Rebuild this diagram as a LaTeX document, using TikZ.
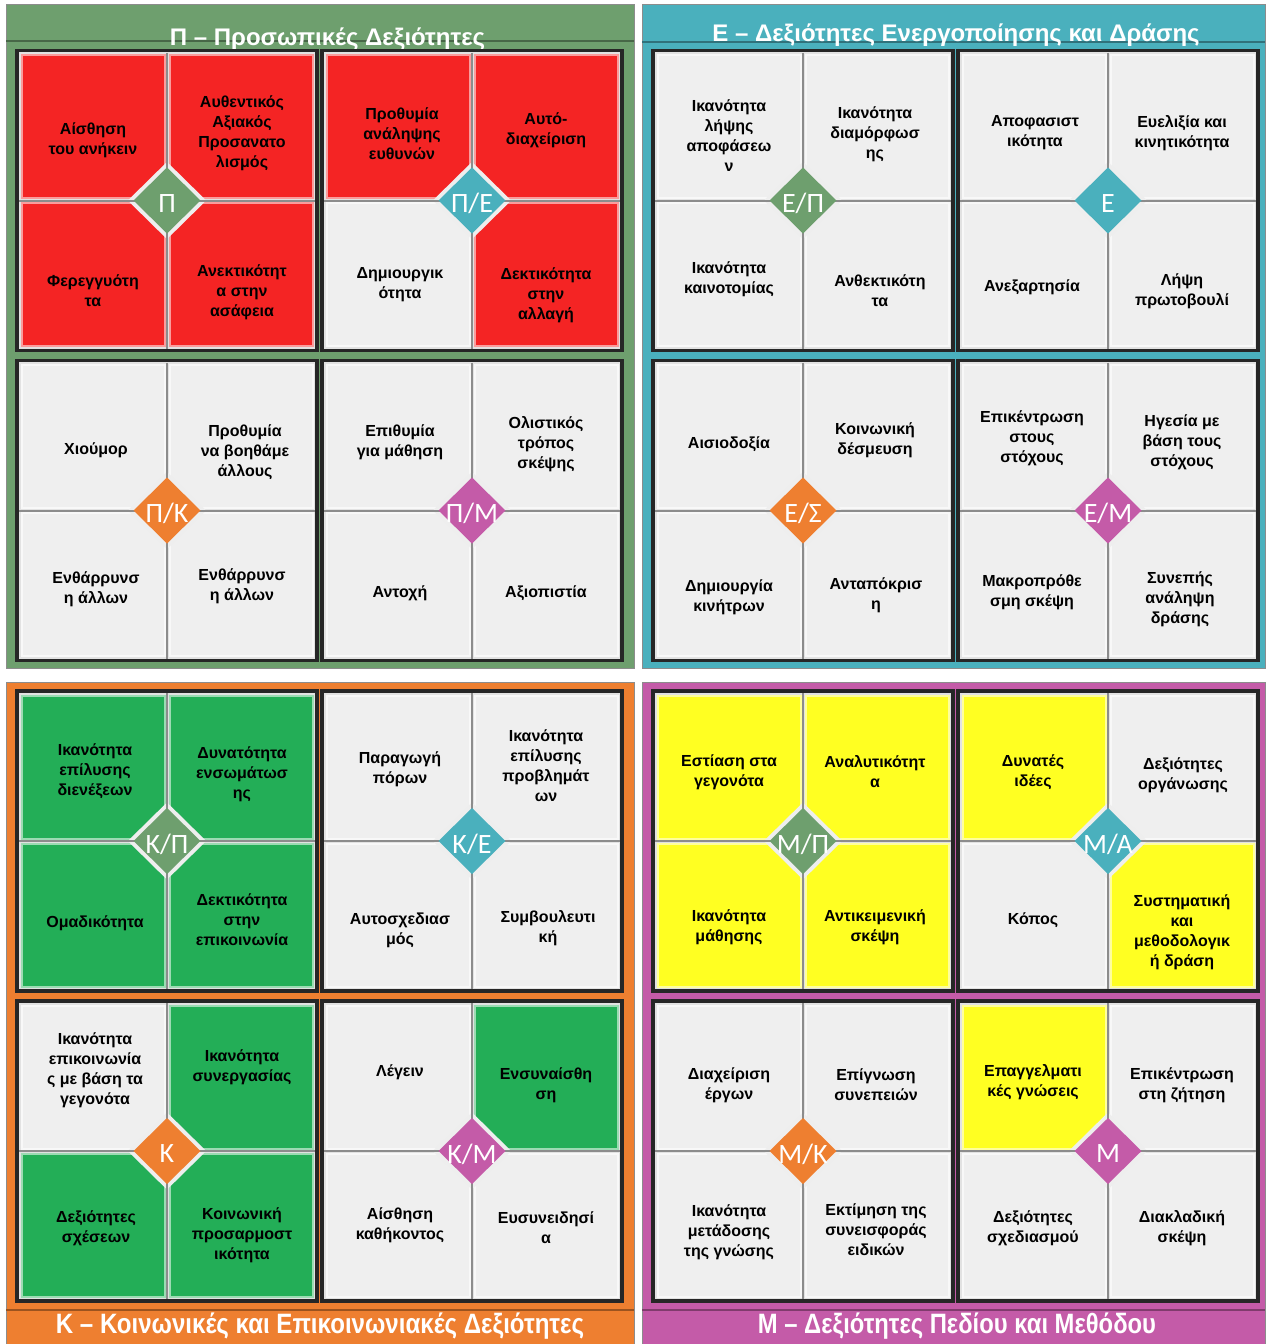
\documentclass[tikz,border=0pt]{standalone}
\usepackage{fontspec}
\usepackage{graphicx}
\setmainfont{Liberation Sans}
\newfontfamily\dfont{Carlito}
\definecolor{qgreen}{HTML}{6E9F6E}
\definecolor{qteal}{HTML}{4AB0BD}
\definecolor{qorange}{HTML}{EE7F30}
\definecolor{qmag}{HTML}{C45BA8}
\definecolor{cred}{HTML}{F42424}
\definecolor{cgrn}{HTML}{23AE57}
\definecolor{cyel}{HTML}{FFFF22}
\definecolor{cwh}{HTML}{EFEFEF}
\definecolor{insetc}{HTML}{E2E2E2}
\definecolor{divc}{HTML}{8C8C8C}
\definecolor{haloc}{HTML}{EEEEEE}
\tikzset{
  ct/.style={align=center, inner sep=0pt, yshift=-2pt, font=\bfseries\fontsize{16}{20}\selectfont, text=black},
  dl/.style={inner sep=0pt, text=white, font=\dfont\fontsize{28}{30}\selectfont},
  ttl/.style={inner sep=0pt, text=white, font=\bfseries\fontsize{24}{28}\selectfont},
  ttlb/.style={inner sep=0pt, text=white, font=\bfseries\fontsize{28}{30}\selectfont},
  qline/.style={draw=black!45, line width=1},
}
% block background
\newcommand\blk[2]{\fill[insetc] ({#1-150},{#2-150}) rectangle ({#1+150},{#2+150});}
% cell: name, cx, cy, sx, sy, fill, tx, ty, text
\newcommand\cel[9]{%
  \fill[#6, draw=#6!45!white, line width=2] ({#2+(#4)*2.5},{#3+(#5)*2.5}) rectangle ({#2+(#4)*145.5},{#3+(#5)*145.5});
  \node[ct] (#1) at (#7,#8) {#9};}
% finish block: name, cx, cy, diamond colour, label
\newcommand\fin[5]{%
  \draw[haloc, line width=8, line join=miter] (#2,{#3-33}) -- ({#2+33.5},#3) -- (#2,{#3+33}) -- ({#2-33.5},#3) -- cycle;
  \draw[divc, line width=2] (#2,{#3-148}) -- (#2,{#3+148});
  \draw[divc, line width=2] ({#2-148},#3) -- ({#2+148},#3);
  \fill[#4] (#2,{#3-33}) -- ({#2+33.5},#3) -- (#2,{#3+33}) -- ({#2-33.5},#3) -- cycle;
  \draw[black!85, line width=3.5] ({#2-150},{#3-150}) rectangle ({#2+150},{#3+150});
  \node[dl] (#1) at (#2,{#3+3}) {#5};}
\begin{document}
\begin{tikzpicture}[x=1pt,y=-1pt]
\useasboundingbox (0,0) rectangle (1266,1344);
\fill[white] (0,0) rectangle (1266,1344);
% quadrants
\fill[qgreen] (6,4) rectangle (634,668);
\draw[qline] (6,4) rectangle (634,668);
\draw[qgreen!65!black, line width=1.2] (6,41) -- (634,41);
\fill[qteal] (642,4) rectangle (1265,668);
\draw[qline] (642,4) rectangle (1265,668);
\draw[qteal!65!black, line width=1.2] (642,42) -- (1265,42);
\fill[qorange] (6,682) rectangle (634,1344);
\draw[qline] (6,682) rectangle (634,1344);
\draw[qorange!65!black, line width=1.2] (6,1310) -- (634,1310);
\fill[qmag] (642,682) rectangle (1265,1344);
\draw[qline] (642,682) rectangle (1265,1344);
\draw[qmag!65!black, line width=1.2] (642,1310) -- (1265,1310);
% titles
\node[ttl, anchor=base] (tP) at (327.5,45) {Π – Προσωπικές Δεξιότητες};
\node[ttl, anchor=base] (tE) at (956,41) {Ε – Δεξιότητες Ενεργοποίησης και Δράσης};
\node[ttlb, anchor=base] (tK) at (320,1333) {\scalebox{0.86}[1]{Κ – Κοινωνικές και Επικοινωνιακές Δεξιότητες}};
\node[ttlb, anchor=base] (tM) at (957,1333) {\scalebox{0.85}[1]{Μ – Δεξιότητες Πεδίου και Μεθόδου}};
% ===== Block A1
\blk{167}{200.5}
\cel{a1a}{167}{200.5}{-1}{-1}{cred}{93}{138}{Αίσθηση\\του ανήκειν}
\cel{a1b}{167}{200.5}{1}{-1}{cred}{242}{131}{Αυθεντικός\\Αξιακός\\Προσανατο\\λισμός}
\cel{a1c}{167}{200.5}{-1}{1}{cred}{93}{289}{Φερεγγυότη\\τα}
\cel{a1d}{167}{200.5}{1}{1}{cred}{242}{290}{Ανεκτικότητ\\α στην\\ασάφεια}
\fin{a1}{167}{200.5}{qgreen}{Π}
% ===== Block A2
\blk{472}{200.5}
\cel{a2a}{472}{200.5}{-1}{-1}{cred}{402}{132}{Προθυμία\\ανάληψης\\ευθυνών}
\cel{a2b}{472}{200.5}{1}{-1}{cred}{546}{128}{Αυτό-\\διαχείριση}
\cel{a2c}{472}{200.5}{-1}{1}{cwh}{400}{283}{Δημιουργικ\\ότητα}
\cel{a2d}{472}{200.5}{1}{1}{cred}{546}{293}{Δεκτικότητα\\στην\\αλλαγή}
\fin{a2}{472}{200.5}{qteal}{Π/Ε}
% ===== Block A3
\blk{167}{510.5}
\cel{a3a}{167}{510.5}{-1}{-1}{cwh}{96}{448}{Χιούμορ}
\cel{a3b}{167}{510.5}{1}{-1}{cwh}{245}{450}{Προθυμία\\να βοηθάμε\\άλλους}
\cel{a3c}{167}{510.5}{-1}{1}{cwh}{96}{587}{Ενθάρρυνσ\\η άλλων}
\cel{a3d}{167}{510.5}{1}{1}{cwh}{242}{584}{Ενθάρρυνσ\\η άλλων}
\fin{a3}{167}{510.5}{qorange}{Π/Κ}
% ===== Block A4
\blk{472}{510.5}
\cel{a4a}{472}{510.5}{-1}{-1}{cwh}{400}{440}{Επιθυμία\\για μάθηση}
\cel{a4b}{472}{510.5}{1}{-1}{cwh}{546}{442}{Ολιστικός\\τρόπος\\σκέψης}
\cel{a4c}{472}{510.5}{-1}{1}{cwh}{400}{591}{Αντοχή}
\cel{a4d}{472}{510.5}{1}{1}{cwh}{546}{591}{Αξιοπιστία}
\fin{a4}{472}{510.5}{qmag}{Π/Μ}
% ===== Block B1
\blk{803}{200.5}
\cel{b1a}{803}{200.5}{-1}{-1}{cwh}{729}{134}{Ικανότητα\\λήψης\\αποφάσεω\\ν}
\cel{b1b}{803}{200.5}{1}{-1}{cwh}{875}{132}{Ικανότητα\\διαμόρφωσ\\ης}
\cel{b1c}{803}{200.5}{-1}{1}{cwh}{729}{277}{Ικανότητα\\καινοτομίας}
\cel{b1d}{803}{200.5}{1}{1}{cwh}{880}{289}{Ανθεκτικότη\\τα}
\fin{b1}{803}{200.5}{qgreen}{Ε/Π}
% ===== Block B2
\blk{1108}{200.5}
\cel{b2a}{1108}{200.5}{-1}{-1}{cwh}{1035}{131}{Αποφασιστ\\ικότητα}
\cel{b2b}{1108}{200.5}{1}{-1}{cwh}{1182}{131}{Ευελιξία και\\κινητικότητα}
\cel{b2c}{1108}{200.5}{-1}{1}{cwh}{1032}{285}{Ανεξαρτησία}
\cel{b2d}{1108}{200.5}{1}{1}{cwh}{1182}{289}{Λήψη\\πρωτοβουλί}
\fin{b2}{1108}{200.5}{qteal}{Ε}
% ===== Block B3
\blk{803}{510.5}
\cel{b3a}{803}{510.5}{-1}{-1}{cwh}{729}{442}{Αισιοδοξία}
\cel{b3b}{803}{510.5}{1}{-1}{cwh}{875}{438}{Κοινωνική\\δέσμευση}
\cel{b3c}{803}{510.5}{-1}{1}{cwh}{729}{595}{Δημιουργία\\κινήτρων}
\cel{b3d}{803}{510.5}{1}{1}{cwh}{876}{593}{Ανταπόκρισ\\η}
\fin{b3}{803}{510.5}{qorange}{Ε/Σ}
% ===== Block B4
\blk{1108}{510.5}
\cel{b4a}{1108}{510.5}{-1}{-1}{cwh}{1032}{436}{Επικέντρωση\\στους\\στόχους}
\cel{b4b}{1108}{510.5}{1}{-1}{cwh}{1182}{440}{Ηγεσία με\\βάση τους\\στόχους}
\cel{b4c}{1108}{510.5}{-1}{1}{cwh}{1032}{590}{Μακροπρόθε\\σμη σκέψη}
\cel{b4d}{1108}{510.5}{1}{1}{cwh}{1180}{597}{Συνεπής\\ανάληψη\\δράσης}
\fin{b4}{1108}{510.5}{qmag}{Ε/Μ}
% ===== Block C1
\blk{167}{841}
\cel{c1a}{167}{841}{-1}{-1}{cgrn}{95}{769}{Ικανότητα\\επίλυσης\\διενέξεων}
\cel{c1b}{167}{841}{1}{-1}{cgrn}{242}{772}{Δυνατότητα\\ενσωμάτωσ\\ης}
\cel{c1c}{167}{841}{-1}{1}{cgrn}{95}{921}{Ομαδικότητα}
\cel{c1d}{167}{841}{1}{1}{cgrn}{242}{918}{Δεκτικότητα\\στην\\επικοινωνία}
\fin{c1}{167}{841}{qgreen}{Κ/Π}
% ===== Block C2
\blk{472}{841}
\cel{c2a}{472}{841}{-1}{-1}{cwh}{400}{767}{Παραγωγή\\πόρων}
\cel{c2b}{472}{841}{1}{-1}{cwh}{546}{764}{Ικανότητα\\επίλυσης\\προβλημάτ\\ων}
\cel{c2c}{472}{841}{-1}{1}{cwh}{400}{928}{Αυτοσχεδιασ\\μός}
\cel{c2d}{472}{841}{1}{1}{cwh}{548}{926}{Συμβουλευτι\\κή}
\fin{c2}{472}{841}{qteal}{Κ/Ε}
% ===== Block C3
\blk{167}{1151}
\cel{c3a}{167}{1151}{-1}{-1}{cwh}{95}{1068}{Ικανότητα\\επικοινωνία\\ς με βάση τα\\γεγονότα}
\cel{c3b}{167}{1151}{1}{-1}{cgrn}{242}{1065}{Ικανότητα\\συνεργασίας}
\cel{c3c}{167}{1151}{-1}{1}{cgrn}{96}{1226}{Δεξιότητες\\σχέσεων}
\cel{c3d}{167}{1151}{1}{1}{cgrn}{242}{1233}{Κοινωνική\\προσαρμοστ\\ικότητα}
\fin{c3}{167}{1151}{qorange}{Κ}
% ===== Block C4
\blk{472}{1151}
\cel{c4a}{472}{1151}{-1}{-1}{cwh}{400}{1070}{Λέγειν}
\cel{c4b}{472}{1151}{1}{-1}{cgrn}{546}{1083}{Ενσυναίσθη\\ση}
\cel{c4c}{472}{1151}{-1}{1}{cwh}{400}{1223}{Αίσθηση\\καθήκοντος}
\cel{c4d}{472}{1151}{1}{1}{cwh}{546}{1226}{Ευσυνειδησί\\α}
\fin{c4}{472}{1151}{qmag}{Κ/Μ}
% ===== Block D1
\blk{803}{841}
\cel{d1a}{803}{841}{-1}{-1}{cyel}{729}{770}{Εστίαση στα\\γεγονότα}
\cel{d1b}{803}{841}{1}{-1}{cyel}{875}{770}{Αναλυτικότητ\\α}
\cel{d1c}{803}{841}{-1}{1}{cyel}{729}{925}{Ικανότητα\\μάθησης}
\cel{d1d}{803}{841}{1}{1}{cyel}{875}{925}{Αντικειμενική\\σκέψη}
\fin{d1}{803}{841}{qgreen}{Μ/Π}
% ===== Block D2
\blk{1108}{841}
\cel{d2a}{1108}{841}{-1}{-1}{cyel}{1033}{770}{Δυνατές\\ιδέες}
\cel{d2b}{1108}{841}{1}{-1}{cwh}{1183}{773}{Δεξιότητες\\οργάνωσης}
\cel{d2c}{1108}{841}{-1}{1}{cwh}{1033}{918}{Κόπος}
\cel{d2d}{1108}{841}{1}{1}{cyel}{1182}{930}{Συστηματική\\και\\μεθοδολογικ\\ή δράση}
\fin{d2}{1108}{841}{qteal}{Μ/Α}
% ===== Block D3
\blk{803}{1151}
\cel{d3a}{803}{1151}{-1}{-1}{cwh}{729}{1083}{Διαχείριση\\έργων}
\cel{d3b}{803}{1151}{1}{-1}{cwh}{876}{1083}{Επίγνωση\\συνεπειών}
\cel{d3c}{803}{1151}{-1}{1}{cwh}{729}{1230}{Ικανότητα\\μετάδοσης\\της γνώσης}
\cel{d3d}{803}{1151}{1}{1}{cwh}{876}{1228}{Εκτίμηση της\\συνεισφοράς\\ειδικών}
\fin{d3}{803}{1151}{qorange}{Μ/Κ}
% ===== Block D4
\blk{1108}{1151}
\cel{d4a}{1108}{1151}{-1}{-1}{cyel}{1033}{1080}{Επαγγελματι\\κές γνώσεις}
\cel{d4b}{1108}{1151}{1}{-1}{cwh}{1182}{1083}{Επικέντρωση\\στη ζήτηση}
\cel{d4c}{1108}{1151}{-1}{1}{cwh}{1033}{1226}{Δεξιότητες\\σχεδιασμού}
\cel{d4d}{1108}{1151}{1}{1}{cwh}{1182}{1226}{Διακλαδική\\σκέψη}
\fin{d4}{1108}{1151}{qmag}{Μ}
\end{tikzpicture}
\end{document}
